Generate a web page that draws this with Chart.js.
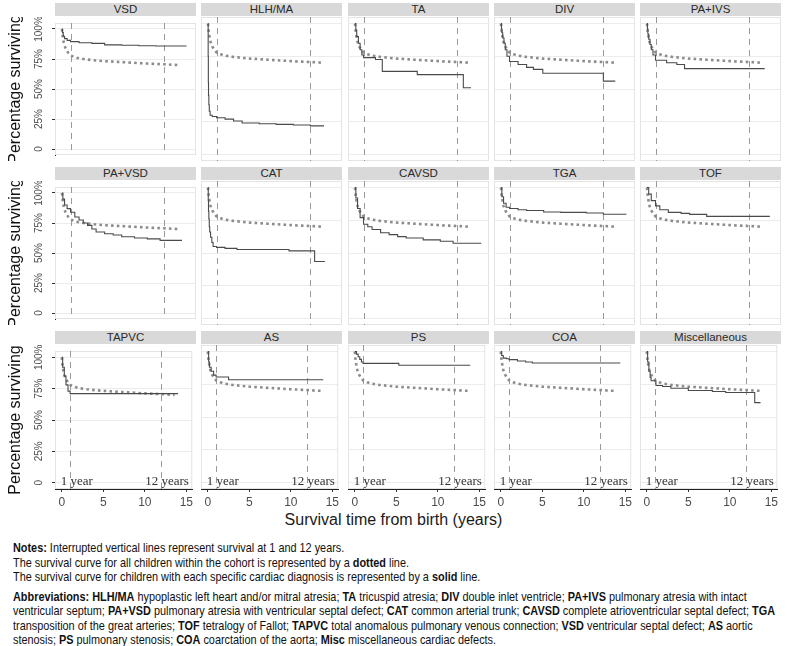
<!DOCTYPE html>
<html>
<head>
<meta charset="utf-8">
<script src="https://cdn.jsdelivr.net/npm/chart.js@4.4.1/dist/chart.umd.min.js"></script>
<style>
  body { margin: 0; background: #fff; }
  #wrap { position: relative; width: 787px; height: 646px; overflow: hidden; }
  canvas { position: absolute; }
  .strip { position: absolute; height: 13px; background: #d9d9d9; color: #2a2a2a;
    font: 11.5px "Liberation Sans", Arial, sans-serif; line-height: 13px; text-align: center; }
  #xtitle { position: absolute; left: 0; width: 787px; top: 511px; text-align: center;
    font: 16px "Liberation Sans", Arial, sans-serif; color: #1a1a1a; }
  #notes { position: absolute; left: 13px; top: 541px; white-space: nowrap; color: #111;
    font: 13px "Liberation Sans", Arial, sans-serif; line-height: 14.5px; transform-origin: 0 0; }
  #notes .gap { height: 5px; }
</style>
</head>
<body>
<div id="wrap">
  <div id="xtitle">Survival time from birth (years)</div>
  <div id="notes">
    <div><span><b>Notes:</b> Interrupted vertical lines represent survival at 1 and 12 years.</span></div>
    <div><span>The survival curve for all children within the cohort is represented by a <b>dotted</b> line.</span></div>
    <div><span>The survival curve for children with each specific cardiac diagnosis is represented by a <b>solid</b> line.</span></div>
    <div class="gap"></div>
    <div><span id="abbr1"><b>Abbreviations: HLH/MA</b> hypoplastic left heart and/or mitral atresia; <b>TA</b> tricuspid atresia; <b>DIV</b> double inlet ventricle; <b>PA+IVS</b> pulmonary atresia with intact</span></div>
    <div><span id="abbr2">ventricular septum; <b>PA+VSD</b> pulmonary atresia with ventricular septal defect; <b>CAT</b> common arterial trunk; <b>CAVSD</b> complete atrioventricular septal defect; <b>TGA</b></span></div>
    <div><span>transposition of the great arteries; <b>TOF</b> tetralogy of Fallot; <b>TAPVC</b> total anomalous pulmonary venous connection; <b>VSD</b> ventricular septal defect; <b>AS</b> aortic</span></div>
    <div><span>stenosis; <b>PS</b> pulmonary stenosis; <b>COA</b> coarctation of the aorta; <b>Misc</b> miscellaneous cardiac defects.</span></div>
  </div>
</div>
<script>
// panel names, in reading order (5 per row)
const panelNames = ['VSD', 'HLH/MA', 'TA', 'DIV', 'PA+IVS',
                    'PA+VSD', 'CAT', 'CAVSD', 'TGA', 'TOF',
                    'TAPVC', 'AS', 'PS', 'COA', 'Miscellaneous'];

// whole cohort (dotted line, same in every panel)
const cohortTimes    = [0, 0.05, 0.1, 0.2, 0.3, 0.5, 0.75, 1, 1.5, 2, 3, 4, 5, 6, 7, 8, 9, 10, 11, 12, 13, 13.6];
const cohortSurvival = [100, 96, 93, 89, 86, 82.5, 80, 78, 76.5, 75.5, 74.5, 73.8, 73.2, 72.8, 72.4, 72, 71.6, 71.2, 70.9, 70.6, 70.2, 70];

// per-diagnosis Kaplan-Meier curves (solid lines)
const vsdTimes = [0, 0.05, 0.15, 0.3, 0.6, 1, 2, 3.5, 5, 7, 9, 11, 14.6];
const vsdSurv  = [100, 97, 94, 92, 90.5, 89.5, 88.5, 88, 86.8, 86.5, 86, 85.8, 85.8];
const hlhTimes = [0, 0.02, 0.04, 0.06, 0.1, 0.15, 0.25, 0.5, 1, 2, 3, 4, 6, 8, 10, 12, 13.6];
const hlhSurv  = [100, 75, 55, 45, 38, 33, 30, 29, 28, 27, 25.5, 24, 23.5, 23, 22.5, 21.8, 21.8];
const taTimes  = [0, 0.1, 0.2, 0.4, 0.6, 0.8, 1, 2.4, 3.2, 7.3, 12.7, 13.6];
const taSurv   = [100, 95, 90, 85, 80, 76, 74, 72.5, 63.5, 61, 51, 51];
const divTimes = [0, 0.05, 0.1, 0.2, 0.35, 0.5, 0.7, 1, 2, 3, 3.8, 4.9, 12, 13.4];
const divSurv  = [100, 96, 93, 89, 85, 80, 75, 71, 68.7, 66.5, 65, 62, 56, 56];
const paivsTimes = [0, 0.05, 0.1, 0.2, 0.35, 0.5, 0.7, 1, 2.3, 3.5, 4.4, 13.8];
const paivsSurv  = [100, 96, 92, 88, 84, 80, 76, 72, 70, 68.7, 65.6, 65.6];
const pavsdTimes = [0, 0.1, 0.3, 0.6, 1, 1.5, 2, 2.5, 3, 3.5, 4, 5, 6, 7, 8.5, 10, 11.5, 14];
const pavsdSurv  = [100, 95, 90, 87, 84, 80, 77.5, 75, 73, 70, 67.5, 66, 65, 63.6, 62.5, 61.8, 60.5, 60];
const catTimes = [0, 0.03, 0.06, 0.1, 0.15, 0.2, 0.3, 0.45, 0.6, 1, 2, 3.4, 9.5, 12.5, 13.7];
const catSurv  = [100, 90, 82, 76, 70, 66, 62, 58, 55, 54.3, 53.5, 52.7, 51.6, 43.5, 43.5];
const cavsdTimes = [0, 0.1, 0.3, 0.6, 1, 1.5, 2, 3, 4, 5, 6, 8, 10, 11.5, 14.8];
const cavsdSurv  = [100, 92, 84, 77, 72, 70, 68, 65.5, 64, 62.5, 61.5, 60, 59, 57.5, 57.5];
const tgaTimes = [0, 0.1, 0.3, 0.6, 1, 2, 3, 5, 7, 10, 12, 14.7];
const tgaSurv  = [100, 93, 88, 85, 84, 83, 82.5, 81.3, 81, 80.5, 79.6, 79.6];
const tofTimes = [0, 0.2, 0.5, 1, 1.5, 2.5, 4, 5, 7, 14.4];
const tofSurv  = [100, 95, 90, 86, 83, 81, 80.3, 79.5, 78, 78];
const tapvcTimes = [0, 0.1, 0.3, 0.5, 0.75, 1, 14];
const tapvcSurv  = [100, 92, 85, 78, 73, 71, 71];
const asTimes  = [0, 0.1, 0.2, 0.4, 0.7, 1, 2.5, 13.9];
const asSurv   = [100, 92, 88, 85, 82, 80.5, 78.5, 78.5];
const psTimes  = [0, 0.2, 0.4, 0.6, 0.8, 1, 5.3, 13.9];
const psSurv   = [100, 98, 96, 94, 92, 91, 89.5, 89.5];
const coaTimes = [0, 0.1, 0.3, 0.7, 1, 2, 3, 3.8, 14.4];
const coaSurv  = [100, 97, 95, 94.5, 93.8, 92.8, 92, 91.3, 91.3];
const miscTimes = [0, 0.1, 0.25, 0.4, 0.52, 1.1, 1.9, 2.9, 5.0, 7.9, 9.5, 13.0, 13.7];
const miscSurv  = [100, 92, 85, 80, 77.7, 74.1, 73.3, 72, 70.3, 69.5, 68.7, 61, 61];

const panelTimes = [vsdTimes, hlhTimes, taTimes, divTimes, paivsTimes, pavsdTimes, catTimes, cavsdTimes,
                    tgaTimes, tofTimes, tapvcTimes, asTimes, psTimes, coaTimes, miscTimes];
const panelSurv  = [vsdSurv, hlhSurv, taSurv, divSurv, paivsSurv, pavsdSurv, catSurv, cavsdSurv,
                    tgaSurv, tofSurv, tapvcSurv, asSurv, psSurv, coaSurv, miscSurv];

const yTicks = [0, 25, 50, 75, 100];
const yTickLabels = ['0', '25%', '50%', '75%', '100%'];
const xTicks = [0, 5, 10, 15];
const xTickLabels = ['0', '5', '10', '15'];
const markerYears = [1, 12];
const markerLabels = ['1 year', '12 years'];

// layout of the grid of panels
const colLeft = [55, 201, 348, 494, 640];
const rowTop = [17, 181, 345];
const plotW = 141, plotH = 144, yAxisW = 55, xAxisH = 22;

const toPoints = (xs, ys) => xs.map((x, i) => ({x: x, y: ys[i]}));

// squeeze the caption so its two longest lines fit like the original
const notes = document.getElementById('notes');
const w1 = document.getElementById('abbr1').getBoundingClientRect().width;
const w2 = document.getElementById('abbr2').getBoundingClientRect().width;
notes.style.transform = 'scaleX(' + Math.min(747 / w1, 762 / w2) + ')';

const panelDecor = {
  id: 'panelDecor',
  beforeDatasetsDraw(chart, args, opts) {
    const {ctx, chartArea: a} = chart;
    const xs = chart.scales.x;
    ctx.save();
    ctx.strokeStyle = '#e4e4e4';
    ctx.lineWidth = 1;
    ctx.strokeRect(a.left + 0.5, a.top + 0.5, a.right - a.left - 1, a.bottom - a.top - 1);
    ctx.strokeStyle = '#9a9a9a';
    ctx.setLineDash([6, 5]);
    markerYears.forEach(yr => {
      const px = Math.round(xs.getPixelForValue(yr)) + 0.5;
      ctx.beginPath();
      ctx.moveTo(px, a.top);
      ctx.lineTo(px, a.bottom);
      ctx.stroke();
    });
    ctx.restore();
  },
  afterDatasetsDraw(chart, args, opts) {
    if (!opts.labels) return;
    const {ctx} = chart;
    const xs = chart.scales.x, ys = chart.scales.y;
    ctx.save();
    ctx.font = '13px "Liberation Serif", "Times New Roman", serif';
    ctx.fillStyle = '#333';
    ctx.textBaseline = 'middle';
    const y0 = ys.getPixelForValue(0) - 1;
    ctx.textAlign = 'left';
    ctx.fillText(markerLabels[0], xs.getPixelForValue(0) - 1, y0);
    ctx.textAlign = 'right';
    ctx.fillText(markerLabels[1], xs.getPixelForValue(15.3), y0);
    ctx.restore();
  }
};

const wrap = document.getElementById('wrap');

panelNames.forEach((name, i) => {
  const row = Math.floor(i / 5), col = i % 5;
  const isLeft = col === 0, isBottom = row === 2;

  const strip = document.createElement('div');
  strip.className = 'strip';
  strip.textContent = name;
  strip.style.left = colLeft[col] + 'px';
  strip.style.width = plotW + 'px';
  strip.style.top = (rowTop[row] - 14) + 'px';
  wrap.appendChild(strip);

  const cv = document.createElement('canvas');
  const w = plotW + (isLeft ? yAxisW : 0);
  const h = plotH + (isBottom ? xAxisH : 0);
  cv.width = w; cv.height = h;
  cv.style.left = (isLeft ? colLeft[col] - yAxisW : colLeft[col]) + 'px';
  cv.style.top = rowTop[row] + 'px';
  wrap.appendChild(cv);

  new Chart(cv, {
    type: 'line',
    data: {
      datasets: [{
        data: toPoints(panelTimes[i], panelSurv[i]),
        borderColor: '#4a4a4a',
        borderWidth: 1.1,
        stepped: true,
        pointRadius: 0,
        fill: false
      }, {
        data: toPoints(cohortTimes, cohortSurvival),
        borderColor: '#8c8c8c',
        borderWidth: 2.6,
        borderDash: [2.6, 3.2],
        pointRadius: 0,
        tension: 0,
        fill: false
      }]
    },
    options: {
      responsive: false,
      animation: false,
      devicePixelRatio: 1,
      layout: { padding: 0, autoPadding: false },
      plugins: {
        legend: { display: false },
        tooltip: { enabled: false },
        panelDecor: { labels: isBottom }
      },
      scales: {
        x: {
          type: 'linear',
          min: -0.82, max: 15.71,
          display: isBottom,
          afterBuildTicks: s => { s.ticks = xTicks.map(v => ({value: v})); },
          afterFit: s => { s.height = isBottom ? xAxisH : 0; },
          grid: { display: true, drawOnChartArea: false, drawTicks: true, tickLength: 3, tickColor: '#333' },
          border: { display: true, color: '#222', width: 1 },
          ticks: {
            padding: 3, color: '#4d4d4d',
            font: { family: '"Liberation Sans", Arial, sans-serif', size: 12 },
            callback: v => xTickLabels[xTicks.indexOf(v)]
          }
        },
        y: {
          min: -5, max: 105,
          afterBuildTicks: s => { s.ticks = yTicks.map(v => ({value: v})); },
          afterFit: s => { s.width = isLeft ? yAxisW : 0; },
          grid: { color: '#ececec', lineWidth: 1, drawTicks: isLeft, tickLength: 3, tickColor: '#333' },
          border: { display: isLeft, color: '#222', width: 1 },
          ticks: {
            display: isLeft,
            minRotation: 90, maxRotation: 90,
            crossAlign: 'center',
            padding: 0, color: '#4d4d4d',
            font: { family: '"Liberation Sans", Arial, sans-serif', size: 10 },
            callback: v => yTickLabels[yTicks.indexOf(v)]
          },
          title: {
            display: isLeft,
            text: 'Percentage surviving',
            color: '#111',
            padding: { top: 6, bottom: 0 },
            font: { family: '"Liberation Sans", Arial, sans-serif', size: 16 }
          }
        }
      }
    },
    plugins: [panelDecor]
  });
});
</script>
</body>
</html>
